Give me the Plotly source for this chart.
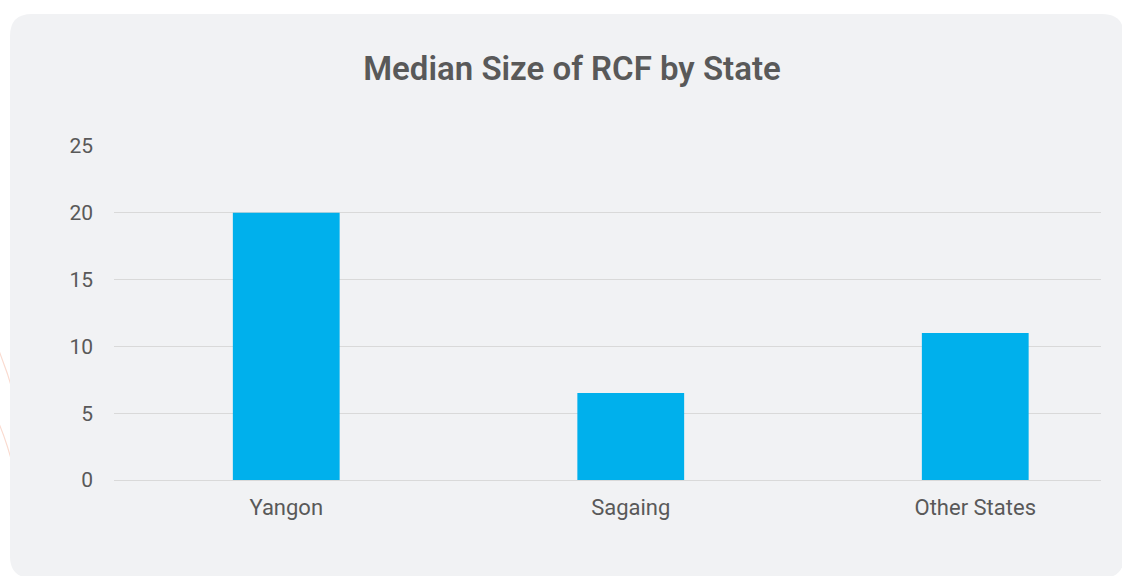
import plotly.graph_objects as go

categories = ["Yangon", "Sagaing", "Other States"]
values = [20, 6.5, 11]
y_ticks = [0, 5, 10, 15, 20, 25]
title_text = "Median Size of RCF by State"

W, H = 1122, 576
L, R, T, B = 114, 1101, 145, 480


def px(x):
    return (x - L) / (R - L)


def py(y):
    return (B - y) / (B - T)


def rounded_rect(x0, y0, x1, y1, r):
    return (f"M {px(x0 + r)},{py(y0)} L {px(x1 - r)},{py(y0)} "
            f"Q {px(x1)},{py(y0)} {px(x1)},{py(y0 + r)} "
            f"L {px(x1)},{py(y1 - r)} Q {px(x1)},{py(y1)} {px(x1 - r)},{py(y1)} "
            f"L {px(x0 + r)},{py(y1)} Q {px(x0)},{py(y1)} {px(x0)},{py(y1 - r)} "
            f"L {px(x0)},{py(y0 + r)} Q {px(x0)},{py(y0)} {px(x0 + r)},{py(y0)} Z")


fig = go.Figure()
fig.add_trace(go.Bar(
    x=categories, y=values, width=0.31,
    marker=dict(color="#00b0ec", line=dict(width=0)),
    hoverinfo="x+y",
))

shapes = [
    dict(type="path", xref="paper", yref="paper", layer="below",
         path=f"M {px(-10)},{py(330)} Q {px(4)},{py(360)} {px(14)},{py(395)}",
         line=dict(color="#fadbd0", width=1.2)),
    dict(type="path", xref="paper", yref="paper", layer="below",
         path=f"M {px(-10)},{py(405)} Q {px(4)},{py(430)} {px(14)},{py(470)}",
         line=dict(color="#fadbd0", width=1.2)),
    dict(type="path", xref="paper", yref="paper", layer="below",
         path=rounded_rect(10, 14, 1124, 578, 22),
         fillcolor="#f1f2f4", line=dict(width=0)),
]

fig.update_layout(
    width=W, height=H,
    margin=dict(l=L, r=W - R, t=T, b=H - B),
    paper_bgcolor="white",
    plot_bgcolor="rgba(0,0,0,0)",
    shapes=shapes,
    showlegend=False,
    bargap=0.69,
    title=dict(
        text=title_text,
        x=572 / W, xref="container", xanchor="center",
        y=1 - 68 / H, yref="container", yanchor="middle",
        font=dict(family="Roboto", size=33, color="#595959", weight=600),
    ),
    xaxis=dict(
        range=[-0.5, 2.365],
        showgrid=False, zeroline=False, showline=False,
        ticks="", ticklabelstandoff=12,
        tickfont=dict(family="Roboto", size=22, color="#595959"),
        fixedrange=True,
    ),
    yaxis=dict(
        range=[0, 25.06], tickvals=y_ticks,
        showgrid=True, gridcolor="#d9d9d9", gridwidth=1.3,
        zeroline=True, zerolinecolor="#d9d9d9", zerolinewidth=1.3,
        showline=False, ticks="", ticklabelstandoff=20,
        tickfont=dict(family="Roboto", size=21, color="#595959"),
        fixedrange=True,
    ),
)

fig.write_html("out.html", config={"displayModeBar": False},
               post_script="document.body.style.margin='0';")
